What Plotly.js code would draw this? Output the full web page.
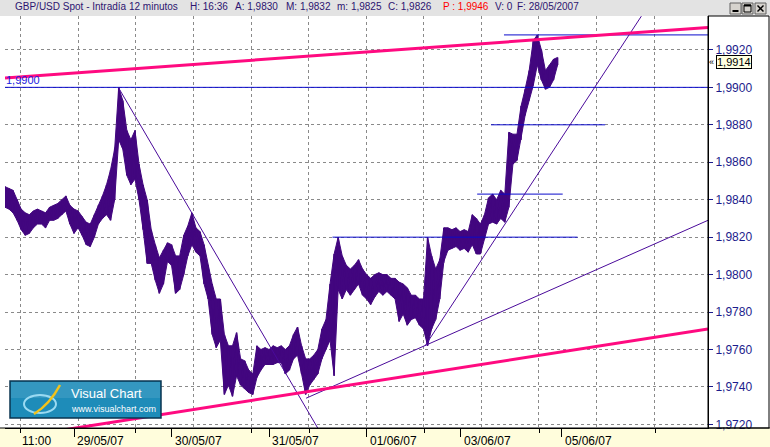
<!DOCTYPE html>
<html><head><meta charset="utf-8">
<script src="https://cdn.plot.ly/plotly-3.0.1.min.js"></script>
<style>html,body{margin:0;padding:0;background:#fff;}#c{width:770px;height:447px;}</style>
</head><body><div id="c"></div>
<script>
// ---- data (x = trading hours counted from 28/05/07 00:00, y = GBP/USD) ----
const hours = [7,8,9,10,11,12,13,14,15,16,17,18,19,20,21,22,23,24,25,26,27,28,29,30,31,32,33,34,35,36,37,38,39,40,41,42,43,44,45,46,47,48,49,50,51,52,53,54,55,56,57,58,59,60,61,62,63,64,65,66,67,68,69,70,71,72,73,74,75,76,77,78,79,80,81,82,83,84,85,86,87,88,89,90,91,92,93,94,95,96,97,98,99,100,101,102,103,104,105,106,107,108,109,110,111,112,113,114,115,116,117,118,119,120,121,122,123,124,125,126,127,128,129,130,131,132,133,134,135,136,137,138,139,140,141,142,143];
const highs = [1.9847,1.9846,1.9845,1.9840,1.9835,1.9833,1.9832,1.9834,1.9835,1.9834,1.9833,1.9836,1.9837,1.9838,1.9840,1.9842,1.9837,1.9835,1.9834,1.9831,1.9828,1.9827,1.9832,1.9837,1.9842,1.9848,1.9856,1.9867,1.9900,1.9893,1.9877,1.9872,1.9877,1.9859,1.9848,1.9840,1.9824,1.9816,1.9809,1.9813,1.9817,1.9816,1.9810,1.9810,1.9821,1.9826,1.9833,1.9825,1.9823,1.9816,1.9805,1.9795,1.9787,1.9787,1.9768,1.9762,1.9762,1.9769,1.9755,1.9754,1.9749,1.9747,1.9762,1.9760,1.9761,1.9760,1.9762,1.9761,1.9762,1.9760,1.9762,1.9768,1.9772,1.9762,1.9755,1.9755,1.9757,1.9760,1.9771,1.9776,1.9795,1.9811,1.9820,1.9810,1.9805,1.9803,1.9805,1.9808,1.9803,1.9800,1.9798,1.9800,1.9801,1.9800,1.9800,1.9798,1.9798,1.9796,1.9795,1.9793,1.9789,1.9789,1.9787,1.9787,1.9820,1.9810,1.9803,1.9808,1.9825,1.9825,1.9824,1.9825,1.9823,1.9824,1.9823,1.9832,1.9830,1.9827,1.9832,1.9841,1.9843,1.9840,1.9845,1.9843,1.9876,1.9875,1.9875,1.9890,1.9899,1.9909,1.9925,1.9928,1.9920,1.9909,1.9912,1.9915,1.9916];
const lows = [1.9836,1.9835,1.9833,1.9829,1.9824,1.9821,1.9822,1.9825,1.9827,1.9827,1.9825,1.9829,1.9829,1.9830,1.9832,1.9834,1.9827,1.9822,1.9825,1.9821,1.9816,1.9815,1.9820,1.9827,1.9830,1.9832,1.9829,1.9840,1.9872,1.9867,1.9853,1.9848,1.9851,1.9840,1.9824,1.9806,1.9806,1.9797,1.9790,1.9795,1.9807,1.9805,1.9790,1.9792,1.9800,1.9810,1.9816,1.9812,1.9810,1.9795,1.9787,1.9768,1.9761,1.9765,1.9736,1.9741,1.9735,1.9746,1.9741,1.9739,1.9737,1.9736,1.9745,1.9749,1.9752,1.9752,1.9752,1.9753,1.9753,1.9747,1.9749,1.9755,1.9757,1.9747,1.9736,1.9741,1.9744,1.9747,1.9755,1.9760,1.9765,1.9746,1.9792,1.9787,1.9792,1.9789,1.9792,1.9795,1.9789,1.9787,1.9784,1.9788,1.9791,1.9789,1.9791,1.9789,1.9787,1.9775,1.9779,1.9773,1.9776,1.9777,1.9773,1.9771,1.9762,1.9771,1.9776,1.9787,1.9807,1.9813,1.9814,1.9815,1.9813,1.9814,1.9812,1.9816,1.9811,1.9811,1.9819,1.9827,1.9828,1.9827,1.9830,1.9828,1.9836,1.9859,1.9861,1.9872,1.9885,1.9893,1.9901,1.9912,1.9904,1.9899,1.9900,1.9904,1.9912];

// drawn studies (two points each, in hours / price)
const pinkTopX = [7.02, 180], pinkTopY = [1.9905, 1.9932];
const pinkBotX = [20, 180],   pinkBotY = [1.97166, 1.9771];
const downX = [34.9, 84.1],   downY = [1.9900, 1.97176];
const upSlowX = [81.1, 180],  upSlowY = [1.9734, 1.9829];
const upSteepX = [110.4, 163.6], upSteepY = [1.9762, 1.9938];
const levelY = [1.9900, 1.9928, 1.9880, 1.9843, 1.9820];
const levelX0 = [7.02, 129.8, 126.6, 123.2, 87.6];
const levelX1 = [180, 180, 154.7, 144.25, 147.9];

// axis ticks
const yTicks = [1.972,1.974,1.976,1.978,1.980,1.982,1.984,1.986,1.988,1.990,1.992];
const dayTicks = [24, 48, 72, 96, 119.2, 144];
const dayLabels = ['29/05/07','30/05/07','31/05/07','01/06/07','03/06/07','05/06/07'];
const shortTicks = [10.88, 39.1, 67.6, 81.9, 110.2, 138.5, 167.0];
const shortLabels = ['11:00','','','','','',''];
const lastPrice = 1.9914;

// ---- build ----
const PRICE = '#42067F';
const zx = [], zy = [];
hours.forEach((h, i) => { zx.push(h, h); zy.push(lows[i], highs[i]); });

const traces = [
  {x: hours, y: lows, mode: 'lines', line: {color: PRICE, width: 1}, hoverinfo: 'skip'},
  {x: hours, y: highs, mode: 'lines', line: {color: PRICE, width: 1}, fill: 'tonexty', fillcolor: PRICE, hoverinfo: 'skip'},
  {x: zx, y: zy, mode: 'lines', line: {color: PRICE, width: 1.5}, hoverinfo: 'skip'},
];
levelY.forEach((v, i) => traces.push({x: [levelX0[i], levelX1[i]], y: [v, v], mode: 'lines', line: {color: '#0A0ACC', width: 1}, hoverinfo: 'skip'}));
[[downX, downY], [upSlowX, upSlowY], [upSteepX, upSteepY]].forEach(([x, y]) =>
  traces.push({x, y, mode: 'lines', line: {color: '#4A0A9A', width: 1}, hoverinfo: 'skip'}));
[[pinkTopX, pinkTopY], [pinkBotX, pinkBotY]].forEach(([x, y]) =>
  traces.push({x, y, mode: 'lines', line: {color: '#FF0A80', width: 3}, hoverinfo: 'skip'}));
traces.push({x: [50], y: [null], xaxis: 'x2', mode: 'lines', hoverinfo: 'skip'});
traces.push({x: [50], y: [null], xaxis: 'x3', mode: 'lines', hoverinfo: 'skip'});
traces.forEach(t => t.showlegend = false);

// pixel helpers for decorations
const PX = p => (p - 5) / 703, PY = p => (428 - p) / 412;
const gridVals = []; for (let k = 0; k < 13; k++) gridVals.push(10.88 + k * 14.17);

const FONT = 'Liberation Sans, Arial, sans-serif';
const TC = '#2C1470';
const shapes = [
  {type: 'rect', xref: 'paper', yref: 'paper', x0: PX(0), x1: PX(770), y0: PY(428), y1: PY(447), fillcolor: '#FFFDDC', line: {width: 0}, layer: 'below'},
  {type: 'line', xref: 'paper', yref: 'paper', x0: PX(0), x1: PX(770), y0: 0, y1: 0, line: {color: 'black', width: 1}},
  {type: 'rect', xref: 'paper', yref: 'paper', x0: PX(0), x1: PX(770), y0: PY(16), y1: PY(0), fillcolor: '#E3E3E3', line: {width: 0}},
  {type: 'rect', xref: 'paper', yref: 'paper', x0: PX(708), x1: PX(769), y0: PY(428), y1: PY(16), line: {color: 'black', width: 1}},
  // window buttons
  {type: 'rect', xref: 'paper', yref: 'paper', x0: PX(730), x1: PX(741), y0: PY(14), y1: PY(3), fillcolor: '#D6D3CE', line: {color: '#606060', width: 1}},
  {type: 'rect', xref: 'paper', yref: 'paper', x0: PX(742), x1: PX(753), y0: PY(14), y1: PY(3), fillcolor: '#D6D3CE', line: {color: '#606060', width: 1}},
  {type: 'rect', xref: 'paper', yref: 'paper', x0: PX(755), x1: PX(766), y0: PY(14), y1: PY(3), fillcolor: '#D6D3CE', line: {color: '#606060', width: 1}},
  {type: 'line', xref: 'paper', yref: 'paper', x0: PX(732.5), x1: PX(738.5), y0: PY(11), y1: PY(11), line: {color: 'black', width: 2}},
  {type: 'rect', xref: 'paper', yref: 'paper', x0: PX(744), x1: PX(751), y0: PY(12), y1: PY(5), line: {color: 'black', width: 1}},
  {type: 'line', xref: 'paper', yref: 'paper', x0: PX(744), x1: PX(751), y0: PY(5.5), y1: PY(5.5), line: {color: 'black', width: 2}},
  {type: 'line', xref: 'paper', yref: 'paper', x0: PX(757.5), x1: PX(763.5), y0: PY(5.5), y1: PY(11.5), line: {color: 'black', width: 1.5}},
  {type: 'line', xref: 'paper', yref: 'paper', x0: PX(757.5), x1: PX(763.5), y0: PY(11.5), y1: PY(5.5), line: {color: 'black', width: 1.5}},
  // logo
  {type: 'rect', xref: 'paper', yref: 'paper', x0: PX(10), x1: PX(161), y0: PY(418), y1: PY(381), fillcolor: '#1E8CB9', line: {color: '#0A3550', width: 1.5}},
  {type: 'rect', xref: 'paper', yref: 'paper', x0: PX(11), x1: PX(160), y0: PY(398), y1: PY(382), fillcolor: 'rgba(255,255,255,0.10)', line: {width: 0}},
  {type: 'circle', xref: 'paper', yref: 'paper', x0: PX(24), x1: PX(56), y0: PY(413), y1: PY(395), line: {color: '#9ADAF2', width: 2}},
  {type: 'path', xref: 'paper', yref: 'paper', path: `M ${PX(34)} ${PY(414)} Q ${PX(50)} ${PY(404)} ${PX(60)} ${PY(385)}`, line: {color: '#F2C21A', width: 2.5}},
];

const annotations = [];
const addT = (px, py, text, opt = {}) => annotations.push(Object.assign({xref: 'paper', yref: 'paper', x: PX(px), y: PY(py), text, showarrow: false, xanchor: 'left', yanchor: 'middle', font: {family: FONT, size: 10, color: TC}}, opt));
addT(13, 7, 'GBP/USD Spot - Intradía 12 minutos');
addT(188, 7, 'H: 16:36');
addT(233, 7, 'A: 1,9830');
addT(284, 7, 'M: 1,9832');
addT(335, 7, 'm: 1,9825');
addT(386, 7, 'C: 1,9826');
addT(441, 7, 'P : 1,9946', {font: {family: FONT, size: 10, color: '#FF0000'}});
addT(493, 7, 'V: 0');
addT(515, 7, 'F: 28/05/2007');
addT(4, 79.5, '1,9900', {font: {family: FONT, size: 11, color: '#2020E0'}});
addT(69, 393, 'Visual Chart', {font: {family: FONT, size: 13, color: 'white'}});
addT(69, 408.5, 'www.visualchart.com', {font: {family: FONT, size: 9, color: 'white'}});
addT(708, 62, '«', {font: {family: FONT, size: 9, color: 'black'}, xshift: -1});
annotations.push({xref: 'paper', yref: 'paper', x: PX(716), y: PY(62), text: lastPrice.toFixed(4).replace('.', ','), showarrow: false, xanchor: 'left', yanchor: 'middle',
  bgcolor: '#FFFFE1', bordercolor: 'black', borderwidth: 1, borderpad: 0, font: {family: FONT, size: 11, color: 'black'}});
dayTicks.forEach((t, i) => annotations.push({xref: 'x', yref: 'paper', x: t, y: PY(441), xshift: 1, text: dayLabels[i], showarrow: false, xanchor: 'left', yanchor: 'middle', font: {family: FONT, size: 12, color: 'black'}}));
shortTicks.forEach((t, i) => { if (shortLabels[i]) annotations.push({xref: 'x', yref: 'paper', x: t, y: PY(441), xshift: -1, text: shortLabels[i], showarrow: false, xanchor: 'left', yanchor: 'middle', font: {family: FONT, size: 12, color: 'black'}}); });

const layout = {
  width: 770, height: 447,
  margin: {l: 5, r: 62, t: 16, b: 19, pad: 0},
  paper_bgcolor: 'white', plot_bgcolor: 'white',
  separators: ',.',
  showlegend: false,
  xaxis: {range: [7.02, 180], tickmode: 'array', tickvals: gridVals, showticklabels: false, ticks: '',
          showgrid: true, gridcolor: '#8A8A8A', griddash: 'dot', gridwidth: 1, zeroline: false,
          showline: true, linecolor: 'black', linewidth: 1, fixedrange: true},
  xaxis2: {overlaying: 'x', matches: 'x', anchor: 'y', side: 'bottom', tickmode: 'array', tickvals: dayTicks, ticks: 'outside', ticklen: 8, tickcolor: 'black', tickwidth: 1,
           showticklabels: false, showgrid: false, zeroline: false, showline: false},
  xaxis3: {overlaying: 'x', matches: 'x', anchor: 'y', side: 'bottom', tickmode: 'array', tickvals: shortTicks, ticks: 'outside', ticklen: 4, tickcolor: 'black', tickwidth: 1,
           showticklabels: false, showgrid: false, zeroline: false, showline: false},
  yaxis: {range: [1.97181, 1.99381], side: 'right', tickmode: 'array', tickvals: yTicks, tickformat: '.4f',
          ticks: 'outside', ticklen: 4, tickcolor: '#1C1C8C', tickfont: {family: FONT, size: 12, color: '#1C1C8C'},
          showgrid: true, gridcolor: '#8A8A8A', griddash: 'dot', gridwidth: 1, zeroline: false,
          showline: true, linecolor: 'black', linewidth: 1, fixedrange: true},
  shapes, annotations,
};
Plotly.newPlot('c', traces, layout, {staticPlot: true, displayModeBar: false});
</script></body></html>
